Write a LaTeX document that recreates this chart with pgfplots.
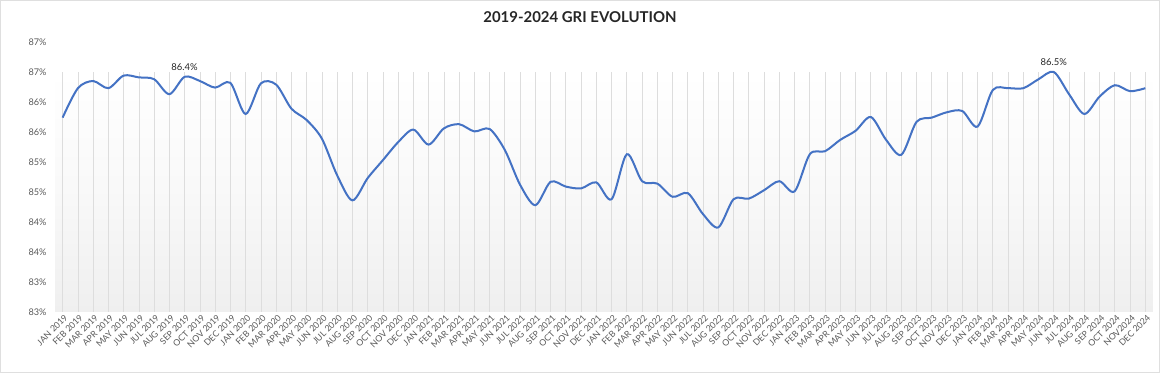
\documentclass[border=0pt]{standalone}
\usepackage{fontspec}
\setmainfont{Lato}
\usepackage{pgfplots}
\pgfplotsset{compat=1.18}
\usepackage{pgfplotstable}
\definecolor{lineblue}{HTML}{4472C4}
\definecolor{ticktext}{HTML}{595959}
\definecolor{gridc}{HTML}{DDDDDD}
\definecolor{bgbottom}{HTML}{EFEFEF}

\pgfplotstableread{
x y g
0 85.74 86.5
1 86.23 86.5
2 86.35 86.5
3 86.23 86.5
4 86.44 86.5
5 86.41 86.5
6 86.38 86.5
7 86.13 86.5
8 86.42 86.5
9 86.35 86.5
10 86.24 86.5
11 86.32 86.5
12 85.80 86.5
13 86.31 86.5
14 86.29 86.5
15 85.89 86.5
16 85.70 86.5
17 85.39 86.5
18 84.78 86.5
19 84.36 86.5
20 84.73 86.5
21 85.03 86.5
22 85.33 86.5
23 85.54 86.5
24 85.29 86.5
25 85.56 86.5
26 85.63 86.5
27 85.51 86.5
28 85.55 86.5
29 85.20 86.5
30 84.62 86.5
31 84.28 86.5
32 84.67 86.5
33 84.59 86.5
34 84.56 86.5
35 84.66 86.5
36 84.38 86.5
37 85.13 86.5
38 84.68 86.5
39 84.64 86.5
40 84.42 86.5
41 84.48 86.5
42 84.13 86.5
43 83.91 86.5
44 84.38 86.5
45 84.39 86.5
46 84.53 86.5
47 84.68 86.5
48 84.51 86.5
49 85.13 86.5
50 85.18 86.5
51 85.37 86.5
52 85.52 86.5
53 85.75 86.5
54 85.37 86.5
55 85.12 86.5
56 85.67 86.5
57 85.74 86.5
58 85.83 86.5
59 85.85 86.5
60 85.59 86.5
61 86.20 86.5
62 86.23 86.5
63 86.23 86.5
64 86.38 86.5
65 86.50 86.5
66 86.13 86.5
67 85.80 86.5
68 86.09 86.5
69 86.28 86.5
70 86.18 86.5
71 86.23 86.5
}\gridata

\begin{document}
\begin{tikzpicture}
\path[use as bounding box] (0,0) rectangle (1160bp,373bp);
\draw[gray!25, line width=1bp] (0.5bp,0.5bp) rectangle (1159.5bp,372.5bp);
\node[font=\bfseries\fontsize{15}{17}\selectfont, text=black!85] at (580bp,356bp) {2019-2024 GRI EVOLUTION};
\begin{axis}[
  at={(55bp,61bp)}, anchor=south west,
  width=1098bp, height=270bp, scale only axis,
  xmin=-0.5, xmax=71.5, ymin=82.5, ymax=87,
  axis line style={draw=none},
  tick style={draw=none},
  xtick={0,...,71},
  xticklabels={JAN 2019,FEB 2019,MAR 2019,APR 2019,MAY 2019,JUN 2019,JUL 2019,AUG 2019,SEP 2019,OCT 2019,NOV 2019,DEC 2019,
    JAN 2020,FEB 2020,MAR 2020,APR 2020,MAY 2020,JUN 2020,JUL 2020,AUG 2020,SEP 2020,OCT 2020,NOV 2020,DEC 2020,
    JAN 2021,FEB 2021,MAR 2021,APR 2021,MAY 2021,JUN 2021,JUL 2021,AUG 2021,SEP 2021,OCT 2021,NOV 2021,DEC 2021,
    JAN 2022,FEB 2022,MAR 2022,APR 2022,MAY 2022,JUN 2022,JUL 2022,AUG 2022,SEP 2022,OCT 2022,NOV 2022,DEC 2022,
    JAN 2023,FEB 2023,MAR 2023,APR 2023,MAY 2023,JUN 2023,JUL 2023,AUG 2023,SEP 2023,OCT 2023,NOV 2023,DEC 2023,
    JAN 2024,FEB 2024,MAR 2024,APR 2024,MAY 2024,JUN 2024,JUL 2024,AUG 2024,SEP 2024,OCT 2024,NOV2024,DEC 2024},
  x tick label style={rotate=45, anchor=north east, font=\fontsize{8.8}{9}\selectfont, text=ticktext, inner sep=0.5bp, yshift=-1.5bp},
  ytick={82.5,83,...,87},
  yticklabels={83\%,83\%,84\%,84\%,85\%,85\%,86\%,86\%,87\%,87\%},
  y tick label style={font=\fontsize{9.2}{10}\selectfont, text=ticktext, xshift=-5bp},
]
\addplot[draw=none, top color=white, bottom color=bgbottom, middle color=white!60!bgbottom] coordinates {(-0.5,82.5) (-0.5,86.5) (71.5,86.5) (71.5,82.5)} -- cycle;
\addplot[ycomb, draw=gridc, line width=0.7bp, mark=none] table[x=x, y=g] {\gridata};
\draw[gridc, line width=0.8bp] (axis cs:-0.5,82.5) -- (axis cs:71.5,82.5);
\addplot[lineblue, line width=2bp, smooth, tension=0.5, mark=none] table[x=x, y=y] {\gridata};
\addplot[draw=none, mark=none, nodes near coords, point meta=explicit symbolic,
  every node near coord/.style={font=\fontsize{9.5}{10}\selectfont, text=black!85, anchor=south, yshift=3bp}]
  coordinates {(8,86.42)[86.4\%] (65,86.50)[86.5\%]};
\end{axis}
\end{tikzpicture}
\end{document}
